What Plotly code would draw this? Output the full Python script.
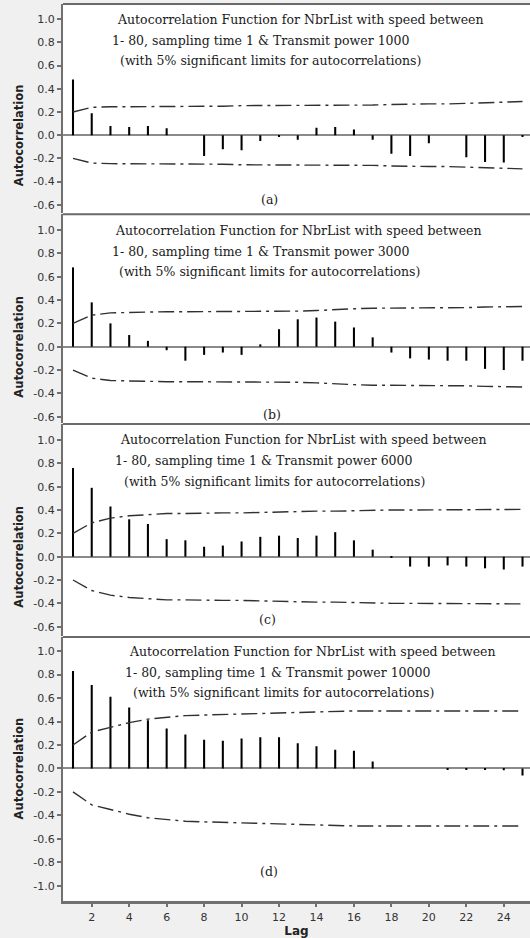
import plotly.graph_objects as go

# ---------------- data ----------------
lags = list(range(1, 26))

acf_a = [0.48, 0.19, 0.08, 0.07, 0.08, 0.06, 0.0, -0.18, -0.12, -0.13, -0.05, -0.01, -0.04,
         0.065, 0.07, 0.05, -0.04, -0.16, -0.18, -0.07, 0.0, -0.19, -0.23, -0.235, -0.015]
acf_b = [0.68, 0.38, 0.20, 0.10, 0.05, -0.03, -0.12, -0.07, -0.05, -0.07, 0.02, 0.15, 0.235,
         0.25, 0.215, 0.165, 0.08, -0.05, -0.10, -0.11, -0.12, -0.12, -0.19, -0.20, -0.12]
acf_c = [0.76, 0.59, 0.43, 0.32, 0.28, 0.15, 0.14, 0.085, 0.095, 0.13, 0.17, 0.18, 0.16,
         0.18, 0.21, 0.14, 0.06, -0.005, -0.085, -0.085, -0.075, -0.085, -0.10, -0.11, -0.085]
acf_d = [0.83, 0.71, 0.61, 0.52, 0.41, 0.34, 0.29, 0.245, 0.235, 0.255, 0.265, 0.265, 0.215,
         0.19, 0.16, 0.15, 0.06, 0.0, 0.0, 0.0, -0.005, -0.01, -0.01, -0.015, -0.06]

lim_a = [0.20, 0.24, 0.245, 0.245, 0.245, 0.25, 0.25, 0.25, 0.25, 0.255, 0.255, 0.26, 0.26,
         0.26, 0.26, 0.26, 0.26, 0.265, 0.27, 0.27, 0.27, 0.275, 0.28, 0.285, 0.29]
lim_b = [0.20, 0.27, 0.29, 0.295, 0.30, 0.30, 0.30, 0.30, 0.30, 0.30, 0.30, 0.305, 0.305,
         0.31, 0.32, 0.325, 0.33, 0.33, 0.33, 0.33, 0.335, 0.335, 0.34, 0.345, 0.345]
lim_c = [0.20, 0.29, 0.33, 0.35, 0.36, 0.37, 0.37, 0.375, 0.375, 0.375, 0.38, 0.38, 0.385,
         0.39, 0.39, 0.395, 0.40, 0.40, 0.40, 0.40, 0.40, 0.40, 0.40, 0.405, 0.405]
lim_d = [0.20, 0.31, 0.35, 0.39, 0.42, 0.435, 0.45, 0.455, 0.46, 0.465, 0.47, 0.475, 0.48,
         0.485, 0.485, 0.49, 0.49, 0.49, 0.49, 0.49, 0.49, 0.49, 0.49, 0.49, 0.49]

powers = ["1000", "3000", "6000", "10000"]
panel_tags = ["(a)", "(b)", "(c)", "(d)"]
yticks_short = [1.0, 0.8, 0.6, 0.4, 0.2, 0.0, -0.2, -0.4, -0.6]
yticks_full = [1.0, 0.8, 0.6, 0.4, 0.2, 0.0, -0.2, -0.4, -0.6, -0.8, -1.0]
xticks = [2, 4, 6, 8, 10, 12, 14, 16, 18, 20, 22, 24]

acfs = [acf_a, acf_b, acf_c, acf_d]
lims = [lim_a, lim_b, lim_c, lim_d]

# ---------------- layout geometry ----------------
W, H = 530, 938
left_px = 63
# (top px, bottom px) of each panel
panel_px = [(4, 213.3), (214.3, 423), (424, 636), (637, 900.7)]
yranges = [[-0.673, 1.131], [-0.654, 1.135], [-0.68, 1.137], [-1.127, 1.12]]
xrange_ = [0.466, 25.4]
# title line left edges (px) per panel
title_x = [(115, 110, 118), (113, 110, 117), (118, 113, 122), (127, 123, 131)]
title_y = [1.0, 0.82, 0.645]
tag_pos = [(11.5, -0.55), (11.6, -0.58), (11.4, -0.54), (11.45, -0.88)]

serif = "DejaVu Serif"
sans = "DejaVu Sans"
axis_grey = "#707070"
dash_pat = "16px,5px,3px,5px"

fig = go.Figure()
layout = dict(
    width=W, height=H, margin=dict(l=0, r=0, t=0, b=0),
    paper_bgcolor="#f0f0f0", plot_bgcolor="white", showlegend=False,
    annotations=[], shapes=[],
)

for i in range(4):
    n = "" if i == 0 else str(i + 1)
    xa, ya = "x" + n, "y" + n
    top, bot = panel_px[i]
    dom = [1 - bot / H, 1 - top / H]

    fig.add_trace(go.Bar(x=lags, y=acfs[i], width=0.11, marker=dict(color="black", line=dict(width=0)),
                         xaxis=xa, yaxis=ya, hoverinfo="skip"))
    fig.add_trace(go.Scatter(x=lags, y=lims[i], mode="lines", xaxis=xa, yaxis=ya,
                             line=dict(color="#303030", width=1.4, dash=dash_pat), hoverinfo="skip"))
    fig.add_trace(go.Scatter(x=lags, y=[-v for v in lims[i]], mode="lines", xaxis=xa, yaxis=ya,
                             line=dict(color="#303030", width=1.4, dash=dash_pat), hoverinfo="skip"))

    ticks = yticks_full if i == 3 else yticks_short
    layout["yaxis" + n] = dict(
        domain=dom, range=yranges[i], anchor=xa, showgrid=False,
        showline=True, linecolor=axis_grey, linewidth=2,
        ticks="outside", ticklen=4, tickwidth=1.5, tickcolor=axis_grey,
        tickvals=ticks, ticktext=[f"{v:.1f}" for v in ticks],
        tickfont=dict(family=sans, size=11, color="#333333"),
        zeroline=True, zerolinecolor="#8a8a8a", zerolinewidth=2,
    )
    xa_dict = dict(domain=[left_px / W, 1], range=xrange_, anchor=ya, showgrid=False, zeroline=False)
    if i == 3:
        xa_dict.update(showline=True, linecolor=axis_grey, linewidth=2.5,
                       ticks="outside", ticklen=4, tickwidth=1.5, tickcolor=axis_grey,
                       tickvals=xticks, ticktext=[str(v) for v in xticks],
                       tickfont=dict(family=sans, size=11, color="#333333"),
                       title=dict(text="<b>Lag</b>", font=dict(family=sans, size=12, color="#222222"),
                                  standoff=4))
    else:
        xa_dict.update(showline=False, showticklabels=False, ticks="")
    layout["xaxis" + n] = xa_dict

    # top frame line
    layout["shapes"].append(dict(type="line", xref="paper", yref="paper",
                                 x0=left_px / W, x1=1, y0=dom[1], y1=dom[1],
                                 line=dict(color="#6a6a6a", width=2)))

    lines = ["Autocorrelation Function for NbrList with speed between",
             f"1- 80, sampling time 1 & Transmit power {powers[i]}",
             "(with 5% significant limits for autocorrelations)"]
    for k in range(3):
        layout["annotations"].append(dict(
            text=lines[k], xref="paper", yref=ya, x=title_x[i][k] / W, y=title_y[k],
            xanchor="left", yanchor="middle", showarrow=False,
            font=dict(family=serif, size=12.5, color="#1a1a1a")))
    layout["annotations"].append(dict(
        text=panel_tags[i], xref=xa, yref=ya, x=tag_pos[i][0], y=tag_pos[i][1],
        xanchor="center", yanchor="middle", showarrow=False,
        font=dict(family=serif, size=12.5, color="#1a1a1a")))
    layout["annotations"].append(dict(
        text="<b>Autocorrelation</b>", xref="paper", yref=ya, x=19 / W, y=0,
        xanchor="center", yanchor="middle", textangle=-90, showarrow=False,
        font=dict(family=sans, size=11.5, color="#222222")))

fig.update_layout(**layout)
fig.write_html("out.html", config={"displayModeBar": False})
